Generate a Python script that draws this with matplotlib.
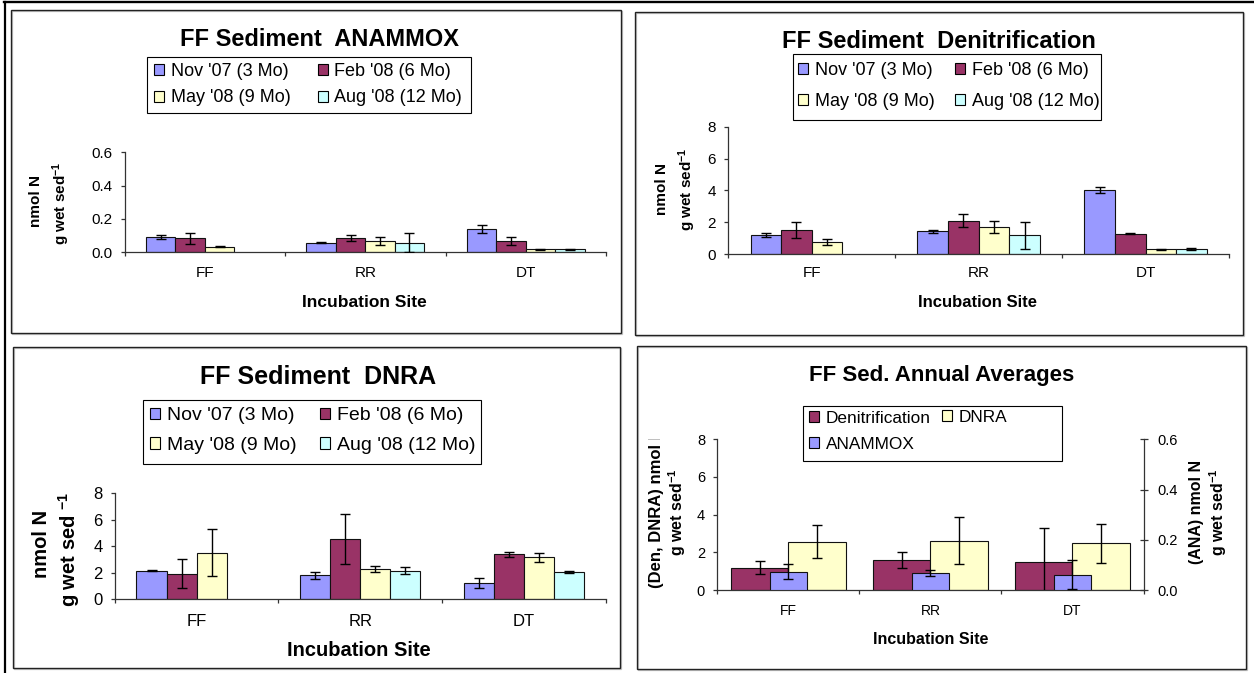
import numpy as np
import matplotlib
matplotlib.use("Agg")
import matplotlib.pyplot as plt
from matplotlib.patches import Rectangle, Patch
from matplotlib.lines import Line2D
from matplotlib.ticker import FormatStrFormatter, FixedLocator
from matplotlib.transforms import Bbox, TransformedBbox, blended_transform_factory

plt.rcParams['font.family'] = ['Liberation Sans', 'DejaVu Sans']
plt.rcParams['mathtext.fontset'] = 'custom'
plt.rcParams['mathtext.rm'] = 'Liberation Sans'
plt.rcParams['mathtext.bf'] = 'Liberation Sans:bold'
plt.rcParams['mathtext.it'] = 'Liberation Sans:italic'

nan = np.nan

# ---------------------------------------------------------------- data
sites = ["FF", "RR", "DT"]
periods = ["Nov '07 (3 Mo)", "Feb '08 (6 Mo)", "May '08 (9 Mo)", "Aug '08 (12 Mo)"]
period_colors = ["#9999FF", "#993366", "#FFFFCC", "#CCFFFF"]

# ANAMMOX (nmol N g wet sed^-1)
ana_nov = [0.090, 0.058, 0.140]
ana_nov_err = [0.013, 0.003, 0.025]
ana_feb = [0.083, 0.084, 0.068]
ana_feb_err = [0.035, 0.019, 0.022]
ana_may = [0.034, 0.066, 0.018]
ana_may_err = [0.002, 0.023, 0.003]
ana_aug = [nan, 0.058, 0.018]
ana_aug_err = [nan, 0.058, 0.004]

# Denitrification
den_nov = [1.19, 1.43, 4.03]
den_nov_err = [0.14, 0.10, 0.17]
den_feb = [1.52, 2.10, 1.28]
den_feb_err = [0.50, 0.41, 0.03]
den_may = [0.76, 1.69, 0.29]
den_may_err = [0.17, 0.38, 0.02]
den_aug = [nan, 1.18, 0.29]
den_aug_err = [nan, 0.84, 0.06]

# DNRA
dnra_nov = [2.16, 1.81, 1.23]
dnra_nov_err = [0.02, 0.26, 0.35]
dnra_feb = [1.93, 4.54, 3.39]
dnra_feb_err = [1.08, 1.87, 0.20]
dnra_may = [3.51, 2.28, 3.16]
dnra_may_err = [1.77, 0.23, 0.34]
dnra_aug = [nan, 2.16, 2.06]
dnra_aug_err = [nan, 0.26, 0.05]

# Annual averages
avg_den = [1.19, 1.61, 1.46]
avg_den_err = [0.365, 0.425, 1.82]
avg_dnra = [2.57, 2.62, 2.47]
avg_dnra_err = [0.87, 1.24, 1.02]
avg_ana = [0.073, 0.068, 0.061]
avg_ana_err = [0.030, 0.011, 0.058]
process_names = ["Denitrification", "DNRA", "ANAMMOX"]
process_colors = ["#993366", "#FFFFCC", "#9999FF"]

# ---------------------------------------------------------------- helpers
W, H = 1254, 673
fig = plt.figure(figsize=(W / 100, H / 100), dpi=100)
fig.patch.set_facecolor('white')
AXC = '#333333'


def fx(x):
    return x / W


def fy(y):
    return 1 - y / H


def axes_px(l, t, r, b):
    return fig.add_axes([fx(l), fy(b), (r - l) / W, (b - t) / H])


def ftext(x, y, s, **kw):
    kw.setdefault('ha', 'center')
    kw.setdefault('va', 'center')
    return fig.text(fx(x), fy(y), s, **kw)


def panel_frame(l, t, r, b):
    w, h = (r - l) / W, (b - t) / H
    fig.add_artist(Rectangle((fx(l) + 1.0 / W, fy(b) - 1.0 / H), w, h,
                             transform=fig.transFigure, fill=False,
                             ec='#c4c4c4', lw=0.9, zorder=0))
    fig.add_artist(Rectangle((fx(l), fy(b)), w, h, transform=fig.transFigure,
                             fill=False, ec='#222222', lw=1.0, zorder=1))


def key_box(l, t, r, b):
    fig.add_artist(Rectangle((fx(l), fy(b)), (r - l) / W, (b - t) / H,
                             transform=fig.transFigure, fill=False,
                             ec='black', lw=0.8, zorder=1))


def key_column(labels, colors, x_px, y_px, fs, row_sep_px):
    fs_px = fs * 100 / 72
    handles = [Patch(facecolor=c, edgecolor='black', linewidth=0.8) for c in colors]
    return fig.legend(handles, labels, loc='center left',
                      bbox_to_anchor=(fx(x_px), fy(y_px)), frameon=False,
                      fontsize=fs, handlelength=10 / fs_px, handleheight=10 / fs_px,
                      handletextpad=7 / fs_px,
                      labelspacing=max(row_sep_px / fs_px - 0.95, 0.0),
                      borderpad=0, borderaxespad=0)


def style_axes(ax, ymax, step, fmt, fs):
    ax.set_xlim(-0.5, 2.5)
    ax.set_ylim(0, ymax)
    ax.patch.set_visible(False)
    for s in ('top', 'right'):
        ax.spines[s].set_visible(False)
    for s in ('left', 'bottom'):
        ax.spines[s].set_color(AXC)
        ax.spines[s].set_linewidth(0.9)
    ax.yaxis.set_major_locator(FixedLocator(np.arange(0, ymax + step / 2, step)))
    ax.yaxis.set_major_formatter(FormatStrFormatter(fmt))
    ax.tick_params(axis='y', direction='out', length=3, width=0.9, color=AXC,
                   labelsize=fs, pad=5.8)
    ax.xaxis.set_major_locator(FixedLocator([-0.5, 0.5, 1.5, 2.5]))
    ax.tick_params(axis='x', direction='out', length=3, width=0.9, color=AXC,
                   labelbottom=False)


def site_labels(ax, y_px, fs):
    bb = ax.get_position()
    bottom_px = (1 - bb.y0) * H
    off = (y_px - bottom_px) / (bb.height * H)
    tr = blended_transform_factory(ax.transData, ax.transAxes)
    for i, s in enumerate(sites):
        ax.text(i, -off, s, transform=tr, ha='center', va='center',
                fontsize=fs, clip_on=False)


def draw_bars(ax, values, errors, colors, width, offsets):
    x = np.arange(len(sites))
    for vals, errs, c, off in zip(values, errors, colors, offsets):
        pos = x + off * width
        ax.bar(pos, vals, width, color=c, edgecolor='#111111', linewidth=0.8, zorder=2)
        ax.errorbar(pos, vals, yerr=errs, fmt='none', ecolor='black',
                    elinewidth=1.0, capsize=3.6, capthick=1.0, zorder=3)


GROUP_W = 1 / 5.45
GROUP_OFF = [-1.5, -0.5, 0.5, 1.5]
SUP = r"g wet sed$^{\mathbf{-1}}$"

# ---------------------------------------------------------------- outer rules
fig.add_artist(Line2D([fx(4), 1], [fy(2.2), fy(2.2)], transform=fig.transFigure,
                      color='black', lw=1.7))
fig.add_artist(Line2D([fx(5), fx(5)], [fy(2.2), 0], transform=fig.transFigure,
                      color='black', lw=1.6))

# ---------------------------------------------------------------- panel 1: ANAMMOX
panel_frame(11, 10, 621, 333)
ax1 = axes_px(124.6, 152.3, 606, 252.3)
style_axes(ax1, 0.6, 0.2, '%.1f', 11)
draw_bars(ax1, [ana_nov, ana_feb, ana_may, ana_aug],
          [ana_nov_err, ana_feb_err, ana_may_err, ana_aug_err],
          period_colors, GROUP_W, GROUP_OFF)
site_labels(ax1, 273, 11)
ftext(319, 39, "FF Sediment  ANAMMOX", fontsize=17, fontweight='bold')
ftext(364, 303, "Incubation Site", fontsize=12.5, fontweight='bold')
ftext(36, 201, "nmol N", rotation=90, fontsize=11, fontweight='bold')
ftext(61, 203, SUP, rotation=90, fontsize=11, fontweight='bold')
key_box(147, 57, 470.5, 113)
key_column([periods[0], periods[2]], [period_colors[0], period_colors[2]], 154, 84.5, 13, 27)
key_column([periods[1], periods[3]], [period_colors[1], period_colors[3]], 317.5, 84.5, 13, 27)

# ---------------------------------------------------------------- panel 2: Denitrification
panel_frame(635, 12, 1243, 335)
ax2 = axes_px(728.3, 126.7, 1229, 254)
style_axes(ax2, 8, 2, '%d', 11)
draw_bars(ax2, [den_nov, den_feb, den_may, den_aug],
          [den_nov_err, den_feb_err, den_may_err, den_aug_err],
          period_colors, GROUP_W, GROUP_OFF)
site_labels(ax2, 273, 11)
ftext(939, 42, "FF Sediment  Denitrification", fontsize=17, fontweight='bold')
ftext(977, 303, "Incubation Site", fontsize=12, fontweight='bold')
ftext(662, 189, "nmol N", rotation=90, fontsize=11, fontweight='bold')
ftext(687, 189, SUP, rotation=90, fontsize=11, fontweight='bold')
key_box(793, 54, 1101, 120)
key_column([periods[0], periods[2]], [period_colors[0], period_colors[2]], 798, 86.2, 13, 31)
key_column([periods[1], periods[3]], [period_colors[1], period_colors[3]], 955, 86.2, 13, 31)

# ---------------------------------------------------------------- panel 3: DNRA
panel_frame(13, 347, 620, 668)
ax3 = axes_px(114.7, 493, 606, 599.3)
style_axes(ax3, 8, 2, '%d', 12)
draw_bars(ax3, [dnra_nov, dnra_feb, dnra_may, dnra_aug],
          [dnra_nov_err, dnra_feb_err, dnra_may_err, dnra_aug_err],
          period_colors, GROUP_W, GROUP_OFF)
site_labels(ax3, 622, 12)
ftext(318, 377, "FF Sediment  DNRA", fontsize=18, fontweight='bold')
ftext(359, 650, "Incubation Site", fontsize=14.5, fontweight='bold')
ftext(41.5, 544, "nmol N", rotation=90, fontsize=14.5, fontweight='bold')
ftext(69, 549, r"g wet sed $^{\mathbf{-1}}$", rotation=90, fontsize=14.5, fontweight='bold')
key_box(143, 400, 481, 464)
key_column([periods[0], periods[2]], [period_colors[0], period_colors[2]], 150, 430.5, 14, 31)
key_column([periods[1], periods[3]], [period_colors[1], period_colors[3]], 319.5, 430.5, 14, 31)

# ---------------------------------------------------------------- panel 4: annual averages
panel_frame(637, 346, 1246, 669)
ax4 = axes_px(717.3, 439.3, 1143.5, 590)
style_axes(ax4, 8, 2, '%d', 10.5)
PAIR_W = 0.405
draw_bars(ax4, [avg_den, avg_dnra], [avg_den_err, avg_dnra_err],
          process_colors[:2], PAIR_W, [-0.5, 0.5])
ax4b = ax4.twinx()
ax4b.set_ylim(0, 0.6)
ax4b.patch.set_visible(False)
for s in ('left', 'top', 'bottom'):
    ax4b.spines[s].set_visible(False)
ax4b.spines['right'].set_color(AXC)
ax4b.spines['right'].set_linewidth(0.9)
ax4b.yaxis.set_major_locator(FixedLocator([0.0, 0.2, 0.4, 0.6]))
ax4b.yaxis.set_major_formatter(FormatStrFormatter('%.1f'))
ax4b.tick_params(axis='y', direction='inout', length=6, width=0.9, color=AXC,
                 labelsize=10.5, pad=6.8)
draw_bars(ax4b, [avg_ana], [avg_ana_err], process_colors[2:], 0.265, [0.0])
ax4b.set_xlim(-0.5, 2.5)
site_labels(ax4, 611, 10)
ftext(942, 375, "FF Sed. Annual Averages", fontsize=16, fontweight='bold')
ftext(931, 640, "Incubation Site", fontsize=11.5, fontweight='bold')
left_lab = ftext(656, 508, "(Den, DNRA) nmol N", rotation=90, fontsize=12,
                 fontweight='bold')
left_lab.set_clip_box(TransformedBbox(
    Bbox.from_extents(fx(630), fy(600), fx(700), fy(439.3)), fig.transFigure))
left_lab.set_clip_on(True)
ftext(677, 512, SUP, rotation=90, fontsize=11.5, fontweight='bold')
ftext(1196, 512, "(ANA) nmol N", rotation=90, fontsize=11.5, fontweight='bold')
ftext(1218, 512, SUP, rotation=90, fontsize=11.5, fontweight='bold')
key_box(803.3, 406, 1062, 461)
key_column([process_names[0], process_names[2]], [process_colors[0], process_colors[2]],
           809, 431.2, 12.4, 27.7)
key_column([process_names[1]], [process_colors[1]], 941.7, 417.3, 12.4, 27.7)

fig.savefig("out.png", dpi=100)
